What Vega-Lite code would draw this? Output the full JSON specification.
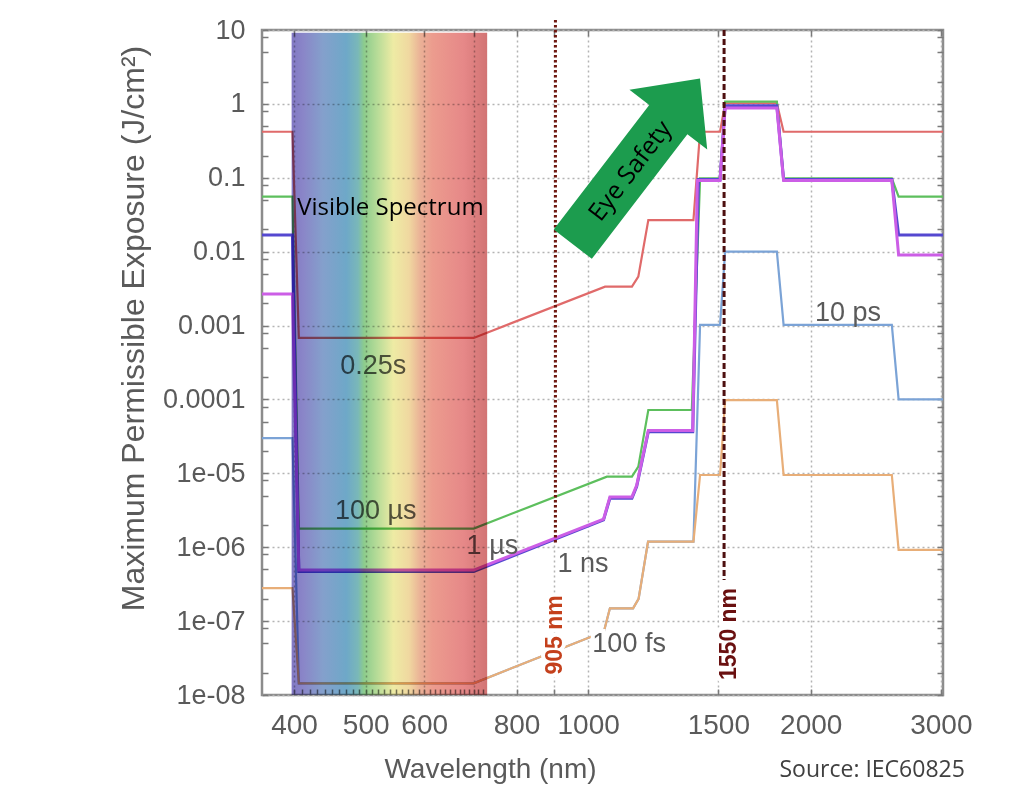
{
  "$schema": "https://vega.github.io/schema/vega-lite/v6.json",
  "width": 681,
  "height": 665,
  "autosize": "none",
  "padding": {"left": 262, "top": 30, "right": 81, "bottom": 98},
  "background": "white",
  "datasets": {
    "mpe": [
      {"s": "10 ps", "x": 362, "y": 3.0e-5}, {"s": "10 ps", "x": 398, "y": 3.0e-5}, {"s": "10 ps", "x": 406, "y": 1.44e-8},
      {"s": "10 ps", "x": 700, "y": 1.44e-8}, {"s": "10 ps", "x": 1050, "y": 7.2e-8}, {"s": "10 ps", "x": 1070, "y": 1.49e-7},
      {"s": "10 ps", "x": 1150, "y": 1.49e-7}, {"s": "10 ps", "x": 1170, "y": 2.0e-7}, {"s": "10 ps", "x": 1205, "y": 1.19e-6},
      {"s": "10 ps", "x": 1388, "y": 1.19e-6}, {"s": "10 ps", "x": 1417, "y": 1.02e-3}, {"s": "10 ps", "x": 1508, "y": 1.02e-3},
      {"s": "10 ps", "x": 1532, "y": 0.01}, {"s": "10 ps", "x": 1800, "y": 0.01}, {"s": "10 ps", "x": 1838, "y": 1.02e-3},
      {"s": "10 ps", "x": 2575, "y": 1.02e-3}, {"s": "10 ps", "x": 2630, "y": 1e-4}, {"s": "10 ps", "x": 3020, "y": 1e-4},

      {"s": "100 fs", "x": 362, "y": 2.79e-7}, {"s": "100 fs", "x": 398, "y": 2.79e-7}, {"s": "100 fs", "x": 406, "y": 1.44e-8},
      {"s": "100 fs", "x": 700, "y": 1.44e-8}, {"s": "100 fs", "x": 1050, "y": 7.2e-8}, {"s": "100 fs", "x": 1070, "y": 1.49e-7},
      {"s": "100 fs", "x": 1150, "y": 1.49e-7}, {"s": "100 fs", "x": 1170, "y": 2.0e-7}, {"s": "100 fs", "x": 1205, "y": 1.19e-6},
      {"s": "100 fs", "x": 1388, "y": 1.19e-6}, {"s": "100 fs", "x": 1417, "y": 9.5e-6}, {"s": "100 fs", "x": 1508, "y": 9.5e-6},
      {"s": "100 fs", "x": 1532, "y": 9.8e-5}, {"s": "100 fs", "x": 1800, "y": 9.8e-5}, {"s": "100 fs", "x": 1838, "y": 9.5e-6},
      {"s": "100 fs", "x": 2575, "y": 9.5e-6}, {"s": "100 fs", "x": 2630, "y": 9.2e-7}, {"s": "100 fs", "x": 3020, "y": 9.2e-7},

      {"s": "0.25 s", "x": 362, "y": 0.42}, {"s": "0.25 s", "x": 398, "y": 0.42}, {"s": "0.25 s", "x": 406, "y": 6.8e-4},
      {"s": "0.25 s", "x": 700, "y": 6.8e-4}, {"s": "0.25 s", "x": 1054, "y": 3.36e-3}, {"s": "0.25 s", "x": 1146, "y": 3.36e-3},
      {"s": "0.25 s", "x": 1169, "y": 4.6e-3}, {"s": "0.25 s", "x": 1206, "y": 0.0268}, {"s": "0.25 s", "x": 1388, "y": 0.0268},
      {"s": "0.25 s", "x": 1417, "y": 0.42}, {"s": "0.25 s", "x": 1508, "y": 0.42}, {"s": "0.25 s", "x": 1532, "y": 1.02},
      {"s": "0.25 s", "x": 1800, "y": 1.02}, {"s": "0.25 s", "x": 1838, "y": 0.42}, {"s": "0.25 s", "x": 3020, "y": 0.42},

      {"s": "100 µs", "x": 362, "y": 0.0555}, {"s": "100 µs", "x": 398, "y": 0.0555}, {"s": "100 µs", "x": 406, "y": 1.79e-6},
      {"s": "100 µs", "x": 700, "y": 1.79e-6}, {"s": "100 µs", "x": 1060, "y": 9.0e-6}, {"s": "100 µs", "x": 1146, "y": 9.0e-6},
      {"s": "100 µs", "x": 1169, "y": 1.23e-5}, {"s": "100 µs", "x": 1206, "y": 7.2e-5}, {"s": "100 µs", "x": 1381, "y": 7.2e-5},
      {"s": "100 µs", "x": 1417, "y": 0.098}, {"s": "100 µs", "x": 1508, "y": 0.098}, {"s": "100 µs", "x": 1532, "y": 1.07},
      {"s": "100 µs", "x": 1800, "y": 1.07}, {"s": "100 µs", "x": 1838, "y": 0.098}, {"s": "100 µs", "x": 2575, "y": 0.098},
      {"s": "100 µs", "x": 2630, "y": 0.0555}, {"s": "100 µs", "x": 3020, "y": 0.0555},

      {"s": "1 µs", "x": 362, "y": 0.0168}, {"s": "1 µs", "x": 398, "y": 0.0168}, {"s": "1 µs", "x": 406, "y": 4.7e-7},
      {"s": "1 µs", "x": 700, "y": 4.7e-7}, {"s": "1 µs", "x": 1049, "y": 2.34e-6}, {"s": "1 µs", "x": 1070, "y": 4.6e-6},
      {"s": "1 µs", "x": 1146, "y": 4.6e-6}, {"s": "1 µs", "x": 1163, "y": 6.6e-6}, {"s": "1 µs", "x": 1206, "y": 3.66e-5},
      {"s": "1 µs", "x": 1385, "y": 3.66e-5}, {"s": "1 µs", "x": 1410, "y": 0.095}, {"s": "1 µs", "x": 1508, "y": 0.095},
      {"s": "1 µs", "x": 1532, "y": 0.94}, {"s": "1 µs", "x": 1800, "y": 0.94}, {"s": "1 µs", "x": 1838, "y": 0.095},
      {"s": "1 µs", "x": 2575, "y": 0.095}, {"s": "1 µs", "x": 2630, "y": 0.0168}, {"s": "1 µs", "x": 3020, "y": 0.0168},

      {"s": "1 ns", "x": 362, "y": 2.68e-3}, {"s": "1 ns", "x": 398, "y": 2.68e-3}, {"s": "1 ns", "x": 406, "y": 4.9e-7},
      {"s": "1 ns", "x": 700, "y": 4.9e-7}, {"s": "1 ns", "x": 1049, "y": 2.4e-6}, {"s": "1 ns", "x": 1070, "y": 4.8e-6},
      {"s": "1 ns", "x": 1146, "y": 4.8e-6}, {"s": "1 ns", "x": 1163, "y": 6.9e-6}, {"s": "1 ns", "x": 1206, "y": 3.8e-5},
      {"s": "1 ns", "x": 1385, "y": 3.8e-5}, {"s": "1 ns", "x": 1405, "y": 0.092}, {"s": "1 ns", "x": 1508, "y": 0.092},
      {"s": "1 ns", "x": 1532, "y": 0.88}, {"s": "1 ns", "x": 1800, "y": 0.88}, {"s": "1 ns", "x": 1838, "y": 0.092},
      {"s": "1 ns", "x": 2575, "y": 0.092}, {"s": "1 ns", "x": 2630, "y": 9.0e-3}, {"s": "1 ns", "x": 3020, "y": 9.0e-3}
    ],
    "lbl": [
      {"t": "0.25s", "x": 512, "y": 2.84e-4},
      {"t": "100 µs", "x": 516, "y": 3.1e-6},
      {"t": "1 µs", "x": 742, "y": 1.04e-6},
      {"t": "1 ns", "x": 984, "y": 5.9e-7},
      {"t": "100 fs", "x": 1136, "y": 4.9e-8},
      {"t": "10 ps", "x": 2246, "y": 1.48e-3}
    ],
    "vl": [
      {"n": "905 nm", "x": 903, "y": 13.7, "y2": 1.14e-6},
      {"n": "1550 nm", "x": 1527, "y": 10, "y2": 3.6e-7}
    ],
    "vlab": [
      {"n": "905 nm", "x": 903, "y": 6.5e-8},
      {"n": "1550 nm", "x": 1552, "y": 6.7e-8}
    ]
  },
  "encoding": {
    "x": {"field": "x", "type": "quantitative", "scale": {"type": "log", "domain": [362, 3020], "nice": false}, "axis": null},
    "y": {"field": "y", "type": "quantitative", "scale": {"type": "log", "domain": [1e-8, 10], "nice": false}, "axis": null}
  },
  "layer": [
    {
      "data": {"name": "mpe"},
      "mark": {"type": "line"},
      "encoding": {
        "x": {
          "field": "x", "type": "quantitative",
          "scale": {"type": "log", "domain": [362, 3020], "nice": false},
          "axis": {
            "orient": "bottom",
            "values": [400, 410, 420, 430, 440, 450, 460, 470, 480, 490, 500, 510, 520, 530, 540, 550, 560, 570, 580, 590, 600, 610, 620, 630, 640, 650, 660, 670, 680, 690, 700, 710, 720, 800, 900, 1000, 1500, 2000, 3000],
            "labelExpr": "indexof([400,500,600,800,1000,1500,2000,3000], datum.value) >= 0 ? datum.value : ''",
            "labelFont": "Liberation Sans", "labelFontSize": 28, "labelColor": "#5a5a5a",
            "labelPadding": 22, "labelFlush": false, "labelOverlap": false, "labelBound": false,
            "tickSize": -6, "tickColor": "#7a7a7a", "tickWidth": 1.5,
            "domain": false,
            "grid": true, "gridColor": "#b4b4b4", "gridDash": [2, 3], "gridWidth": 1.5,
            "gridOpacity": {"condition": {"test": "indexof([400,500,600,700,800,900,1000,1500,2000,3000], datum.value) >= 0", "value": 1}, "value": 0},
            "title": "Wavelength (nm)", "titleFont": "Liberation Sans", "titleFontSize": 28,
            "titleFontWeight": "normal", "titleColor": "#5a5a5a",
            "titleX": 228, "titleY": 82, "titleBaseline": "alphabetic"
          }
        },
        "y": {
          "field": "y", "type": "quantitative",
          "scale": {"type": "log", "domain": [1e-8, 10], "nice": false},
          "axis": {
            "orient": "left",
            "values": [1e-8, 2e-8, 5e-8, 8e-8, 1e-7, 2e-7, 5e-7, 8e-7, 1e-6, 2e-6, 5e-6, 8e-6, 1e-5, 2e-5, 5e-5, 8e-5, 1e-4, 2e-4, 5e-4, 8e-4, 0.001, 0.002, 0.005, 0.008, 0.01, 0.02, 0.05, 0.08, 0.1, 0.2, 0.5, 0.8, 1, 2, 5, 8, 10],
            "labelExpr": "abs(log(datum.value)/LN10 - round(log(datum.value)/LN10)) > 0.01 ? '' : (datum.value >= 0.0001 ? format(datum.value, '~f') : '1e-0' + (-round(log(datum.value)/LN10)))",
            "labelFont": "Liberation Sans", "labelFontSize": 27, "labelColor": "#5a5a5a",
            "labelPadding": 23, "labelFlush": false, "labelOverlap": false, "labelBound": false,
            "tickSize": -6, "tickColor": "#7a7a7a", "tickWidth": 1.5,
            "domain": false,
            "grid": true, "gridColor": "#b4b4b4", "gridDash": [2, 3], "gridWidth": 1.5,
            "gridOpacity": {"condition": {"test": "abs(log(datum.value)/LN10 - round(log(datum.value)/LN10)) < 0.01", "value": 1}, "value": 0},
            "title": "Maximum Permissible Exposure (J/cm²)", "titleFont": "Liberation Sans", "titleFontSize": 32,
            "titleFontWeight": "normal", "titleColor": "#5a5a5a",
            "titleX": -112, "titleY": 298, "titleBaseline": "bottom"
          }
        },
        "color": {
          "field": "s", "type": "nominal",
          "scale": {"domain": ["0.25 s", "100 µs", "1 µs", "1 ns", "10 ps", "100 fs"], "range": ["#e06a6a", "#5dbf5d", "#5548d0", "#cc5ee6", "#7ba3d6", "#e8ae78"]},
          "legend": null
        },
        "strokeWidth": {
          "field": "s", "type": "nominal",
          "scale": {"type": "ordinal", "domain": ["0.25 s", "100 µs", "1 µs", "1 ns", "10 ps", "100 fs"], "range": [2.2, 2.2, 3, 3, 2.2, 2.2]},
          "legend": null
        }
      }
    },
    {
      "data": {"name": "vl"},
      "mark": {"type": "rule", "strokeWidth": 3},
      "encoding": {
        "x": {
          "field": "x", "type": "quantitative",
          "scale": {"type": "log", "domain": [362, 3020], "nice": false},
          "axis": {"orient": "top", "values": [400, 500, 600, 700, 800, 900, 1000, 1500, 2000, 3000], "labels": false, "grid": false, "domain": false, "tickSize": -6, "tickColor": "#7a7a7a", "tickWidth": 1.5, "title": null}
        },
        "y": {
          "field": "y", "type": "quantitative",
          "scale": {"type": "log", "domain": [1e-8, 10], "nice": false},
          "axis": {"orient": "right", "values": [1e-8, 2e-8, 5e-8, 8e-8, 1e-7, 2e-7, 5e-7, 8e-7, 1e-6, 2e-6, 5e-6, 8e-6, 1e-5, 2e-5, 5e-5, 8e-5, 1e-4, 2e-4, 5e-4, 8e-4, 0.001, 0.002, 0.005, 0.008, 0.01, 0.02, 0.05, 0.08, 0.1, 0.2, 0.5, 0.8, 1, 2, 5, 8, 10], "labels": false, "grid": false, "domain": false, "tickSize": -6, "tickColor": "#7a7a7a", "tickWidth": 1.5, "title": null}
        },
        "y2": {"field": "y2"},
        "color": {"field": "n", "type": "nominal", "scale": {"domain": ["905 nm", "1550 nm"], "range": ["#6e1810", "#4e1010"]}, "legend": null},
        "strokeDash": {"field": "n", "type": "nominal", "scale": {"domain": ["905 nm", "1550 nm"], "range": [[2.5, 2.5], [6, 3]]}, "legend": null}
      }
    },
    {
      "data": {"name": "lbl"},
      "transform": [{"filter": "datum.t == '100 fs'"}],
      "mark": {"type": "text", "font": "Liberation Sans", "fontSize": 27, "baseline": "middle", "fill": "white", "stroke": "white", "strokeWidth": 8},
      "encoding": {"text": {"field": "t", "type": "nominal"}}
    },
    {
      "data": {"name": "lbl"},
      "mark": {"type": "text", "font": "Liberation Sans", "fontSize": 27, "baseline": "middle", "color": "#5a5a5a"},
      "encoding": {"text": {"field": "t", "type": "nominal"}}
    },
    {
      "data": {"name": "vlab"},
      "mark": {"type": "text", "font": "Liberation Sans", "fontSize": 23, "fontWeight": "bold", "angle": 270, "baseline": "middle", "fill": "white", "stroke": "white", "strokeWidth": 8},
      "encoding": {"text": {"field": "n", "type": "nominal"}}
    },
    {
      "data": {"name": "vlab"},
      "mark": {"type": "text", "font": "Liberation Sans", "fontSize": 23, "fontWeight": "bold", "angle": 270, "baseline": "middle"},
      "encoding": {
        "text": {"field": "n", "type": "nominal"},
        "color": {"field": "n", "type": "nominal", "scale": {"domain": ["905 nm", "1550 nm"], "range": ["#c4401c", "#6a1010"]}, "legend": null}
      }
    },
    {
      "data": {"values": [{"x": 397, "x2": 730, "y": 9.2, "y2": 1e-8}]},
      "mark": {
        "type": "rect",
        "blend": "multiply",
        "fill": {
          "gradient": "linear", "x1": 0, "y1": 0, "x2": 1, "y2": 0,
          "stops": [
            {"offset": 0, "color": "#8278c4"},
            {"offset": 0.06, "color": "#8a86c8"},
            {"offset": 0.16, "color": "#84a0cc"},
            {"offset": 0.28, "color": "#6ea8c8"},
            {"offset": 0.34, "color": "#7ab8b8"},
            {"offset": 0.37, "color": "#8ccc8c"},
            {"offset": 0.44, "color": "#b8dc98"},
            {"offset": 0.52, "color": "#eeeba4"},
            {"offset": 0.6, "color": "#f0d8a0"},
            {"offset": 0.66, "color": "#eab096"},
            {"offset": 0.72, "color": "#ec9c8e"},
            {"offset": 0.88, "color": "#e68888"},
            {"offset": 1, "color": "#d27474"}
          ]
        }
      },
      "encoding": {"x2": {"field": "x2"}, "y2": {"field": "y2"}}
    },
    {
      "data": {"values": [{"t": "Visible Spectrum", "x": 540, "y": 0.039}]},
      "mark": {"type": "text", "font": "Open Sans", "fontSize": 24, "baseline": "middle", "color": "#000000"},
      "encoding": {"text": {"field": "t", "type": "nominal"}}
    },
    {
      "data": {"values": [{"x": 1162, "y": 0.167}]},
      "mark": {
        "type": "point",
        "shape": "M0,-1L0.469,-0.502L0.23,-0.502L0.23,1L-0.23,1L-0.23,-0.502L-0.469,-0.502Z",
        "size": 43681, "angle": 37.5, "filled": true, "color": "#1c9c4e", "opacity": 1, "strokeWidth": 0
      }
    },
    {
      "data": {"values": [{"t": "Eye Safety", "x": 1140, "y": 0.1236}]},
      "mark": {"type": "text", "font": "Open Sans", "fontSize": 25, "angle": -52.5, "baseline": "middle", "color": "#000000"},
      "encoding": {"text": {"field": "t", "type": "nominal"}}
    },
    {
      "data": {"values": [{"t": "Source: IEC60825", "x": 2422, "y": 9.7e-10}]},
      "mark": {"type": "text", "font": "Open Sans", "fontSize": 23, "baseline": "middle", "color": "#404040"},
      "encoding": {"text": {"field": "t", "type": "nominal"}}
    }
  ],
  "resolve": {
    "scale": {"color": "independent", "strokeDash": "independent"},
    "axis": {"x": "independent", "y": "independent"}
  },
  "config": {
    "font": "Liberation Sans",
    "view": {"stroke": "#8c8c8c", "strokeWidth": 2.5}
  }
}
